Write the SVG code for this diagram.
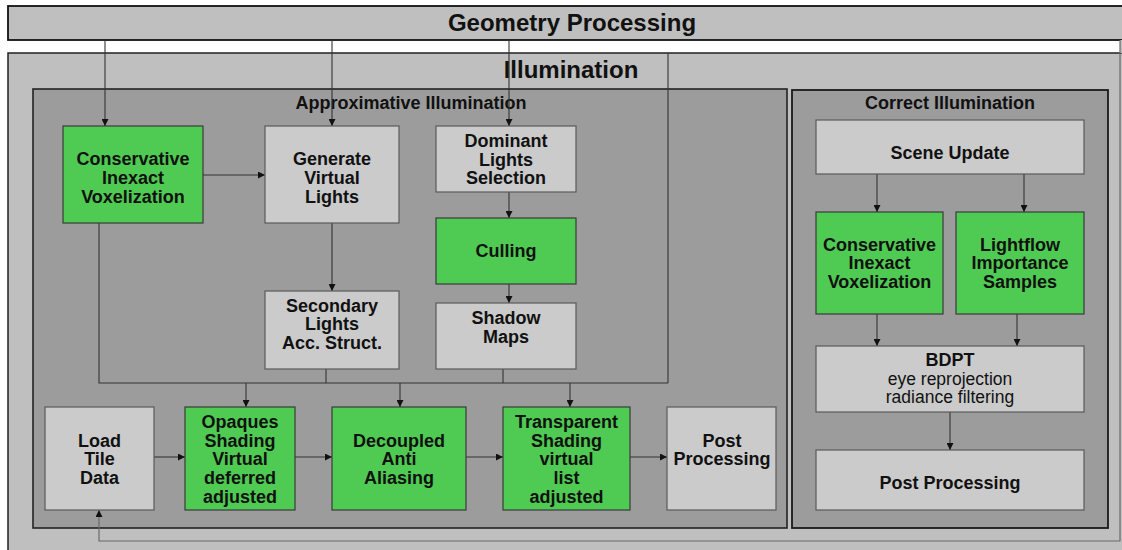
<svg xmlns="http://www.w3.org/2000/svg" width="1122" height="550" viewBox="0 0 1122 550">
<defs>
<marker id="ah" markerWidth="7" markerHeight="7" refX="7" refY="3.5" orient="auto" markerUnits="userSpaceOnUse">
<path d="M0,0 L7,3.5 L0,7 z" fill="#111"/>
</marker>
<style>
text{font-family:"Liberation Sans",Arial,sans-serif;fill:#111;text-anchor:middle}
.t1{font-size:24px;font-weight:bold}
.t2{font-size:18px;font-weight:bold}
.n{font-size:18px;font-weight:bold}
.r{font-size:17.5px}
.gray{fill:#cbcbcb;stroke:#5a5a5a;stroke-width:1.2}
.green{fill:#4fca52;stroke:#3b3b3b;stroke-width:1.2}
.c{fill:none;stroke:#333;stroke-width:1.1}
.c2{fill:none;stroke:#6a6a6a;stroke-width:1.2}
</style>
</defs>
<rect x="0" y="0" width="1122" height="550" fill="#fff"/>
<g id="geometry-processing">
<rect x="8" y="6" width="1130" height="34" fill="#bfbfbf" stroke="#111" stroke-width="1.8"/>
<text class="t1" x="572" y="31">Geometry Processing</text>
</g>
<g id="illumination">
<rect x="8" y="53" width="1130" height="520" fill="#bfbfbf" stroke="#222" stroke-width="1.5"/>
<rect x="1120" y="40" width="10" height="13" fill="#bfbfbf"/>
<text class="t1" x="571" y="78">Illumination</text>
</g>
<g id="approximative-illumination">
<rect x="33" y="89" width="754" height="439" fill="#9c9c9c" stroke="#222" stroke-width="1.6"/>
<text class="t2" x="411" y="109">Approximative Illumination</text>
</g>
<g id="correct-illumination">
<rect x="792" y="90" width="316" height="438" fill="#9c9c9c" stroke="#1a1a1a" stroke-width="1.8"/>
<text class="t2" x="950" y="109">Correct Illumination</text>
</g>
<g id="connectors">
<path class="c" d="M105,40 V126" marker-end="url(#ah)"/>
<path class="c" d="M332,40 V126" marker-end="url(#ah)"/>
<path class="c" d="M509,40 V126" marker-end="url(#ah)"/>
<path class="c" d="M668,53 V383"/>
<path class="c" d="M203,175 H265" marker-end="url(#ah)"/>
<path class="c" d="M332,223 V291" marker-end="url(#ah)"/>
<path class="c" d="M509,192 V218" marker-end="url(#ah)"/>
<path class="c" d="M509,284 V303" marker-end="url(#ah)"/>
<path class="c" d="M99,223 V383 H668"/>
<path class="c" d="M326,369 V383"/>
<path class="c" d="M503,369 V383"/>
<path class="c" d="M246,383 V407" marker-end="url(#ah)"/>
<path class="c" d="M400,383 V407" marker-end="url(#ah)"/>
<path class="c" d="M570,383 V407" marker-end="url(#ah)"/>
<path class="c" d="M154,457 H185" marker-end="url(#ah)"/>
<path class="c" d="M295,457 H332" marker-end="url(#ah)"/>
<path class="c" d="M466,457 H503" marker-end="url(#ah)"/>
<path class="c" d="M630,457 H667" marker-end="url(#ah)"/>
<path class="c2" d="M1120,40 V541 H99 V510" marker-end="url(#ah)"/>
<path class="c" d="M877,174 V212" marker-end="url(#ah)"/>
<path class="c" d="M1024,174 V212" marker-end="url(#ah)"/>
<path class="c" d="M877,314 V346" marker-end="url(#ah)"/>
<path class="c" d="M1017,314 V346" marker-end="url(#ah)"/>
<path class="c" d="M950,412 V450" marker-end="url(#ah)"/>
</g>
<g id="civ-approx">
<rect class="green" x="63" y="126" width="140" height="97"/>
<text class="n" x="133" y="165">Conservative</text>
<text class="n" x="133" y="184">Inexact</text>
<text class="n" x="133" y="202.5">Voxelization</text>
</g>
<g id="generate-virtual-lights">
<rect class="gray" x="265" y="126" width="134" height="97"/>
<text class="n" x="332" y="165">Generate</text>
<text class="n" x="332" y="184">Virtual</text>
<text class="n" x="332" y="202.5">Lights</text>
</g>
<g id="secondary-lights">
<rect class="gray" x="265" y="291" width="134" height="78"/>
<text class="n" x="332" y="311.5">Secondary</text>
<text class="n" x="332" y="330">Lights</text>
<text class="n" x="332" y="348.5">Acc. Struct.</text>
</g>
<g id="dominant-lights">
<rect class="gray" x="436" y="126" width="140" height="66"/>
<text class="n" x="506" y="146.5">Dominant</text>
<text class="n" x="506" y="165.5">Lights</text>
<text class="n" x="506" y="184">Selection</text>
</g>
<g id="culling">
<rect class="green" x="436" y="218" width="140" height="66"/>
<text class="n" x="506" y="257">Culling</text>
</g>
<g id="shadow-maps">
<rect class="gray" x="436" y="303" width="140" height="66"/>
<text class="n" x="506" y="324">Shadow</text>
<text class="n" x="506" y="342.5">Maps</text>
</g>
<g id="load-tile-data">
<rect class="gray" x="45" y="407" width="109" height="103"/>
<text class="n" x="99.5" y="446.5">Load</text>
<text class="n" x="99.5" y="465">Tile</text>
<text class="n" x="99.5" y="483.5">Data</text>
</g>
<g id="opaques-shading">
<rect class="green" x="185" y="407" width="110" height="103"/>
<text class="n" x="240" y="427.5">Opaques</text>
<text class="n" x="240" y="446.5">Shading</text>
<text class="n" x="240" y="465">Virtual</text>
<text class="n" x="240" y="483.5">deferred</text>
<text class="n" x="240" y="502.5">adjusted</text>
</g>
<g id="decoupled-aa">
<rect class="green" x="332" y="407" width="134" height="103"/>
<text class="n" x="399" y="446.5">Decoupled</text>
<text class="n" x="399" y="465">Anti</text>
<text class="n" x="399" y="483.5">Aliasing</text>
</g>
<g id="transparent-shading">
<rect class="green" x="503" y="407" width="127" height="103"/>
<text class="n" x="566.5" y="427.5">Transparent</text>
<text class="n" x="566.5" y="446.5">Shading</text>
<text class="n" x="566.5" y="465">virtual</text>
<text class="n" x="566.5" y="483.5">list</text>
<text class="n" x="566.5" y="502.5">adjusted</text>
</g>
<g id="post-processing-approx">
<rect class="gray" x="667" y="407" width="109" height="103"/>
<text class="n" x="722" y="446.5">Post</text>
<text class="n" x="722" y="465">Processing</text>
</g>
<g id="scene-update">
<rect class="gray" x="816" y="120" width="268" height="54"/>
<text class="n" x="950" y="159">Scene Update</text>
</g>
<g id="civ-correct">
<rect class="green" x="816" y="212" width="127" height="102"/>
<text class="n" x="879.5" y="250.5">Conservative</text>
<text class="n" x="879.5" y="269">Inexact</text>
<text class="n" x="879.5" y="288">Voxelization</text>
</g>
<g id="lightflow">
<rect class="green" x="956" y="212" width="128" height="102"/>
<text class="n" x="1020" y="250.5">Lightflow</text>
<text class="n" x="1020" y="269">Importance</text>
<text class="n" x="1020" y="288">Samples</text>
</g>
<g id="bdpt">
<rect class="gray" x="816" y="346" width="268" height="66"/>
<text class="n" x="950" y="366">BDPT</text>
<text class="r" x="950" y="385">eye reprojection</text>
<text class="r" x="950" y="403">radiance filtering</text>
</g>
<g id="post-processing-correct">
<rect class="gray" x="816" y="450" width="268" height="60"/>
<text class="n" x="950" y="489">Post Processing</text>
</g>
</svg>
